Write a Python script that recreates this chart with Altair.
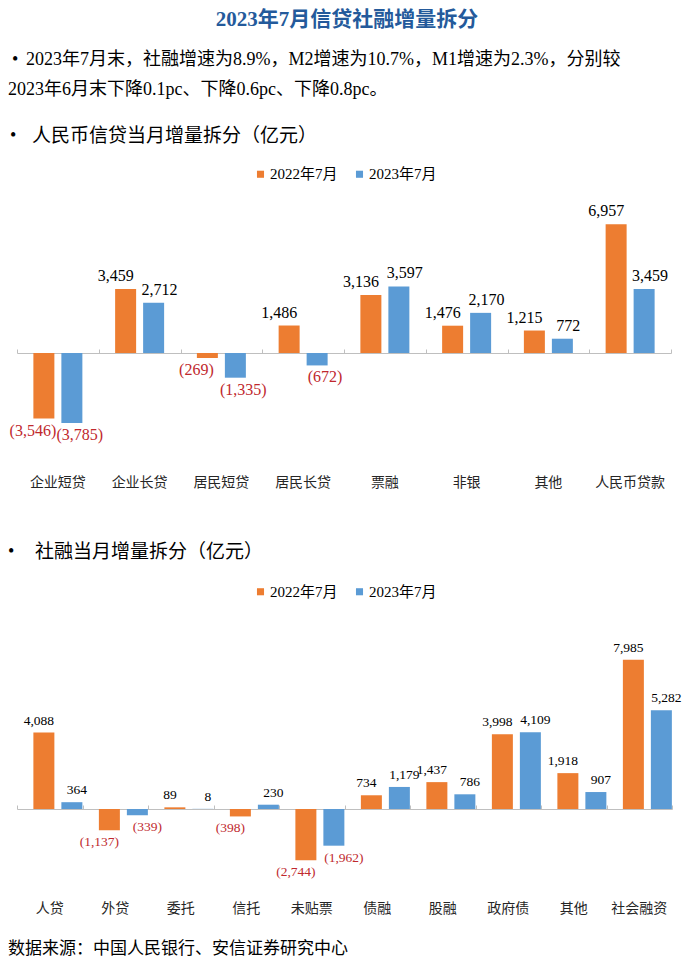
import altair as alt
import pandas as pd

FONT = "'Liberation Serif', 'Noto Sans CJK SC', serif"
ORANGE = "#ED7D31"
BLUE = "#5B9BD5"
RED = "#C0282D"
GRAY = "#BFBFBF"
TITLE_BLUE = "#245A9B"

series = ["2022年7月", "2023年7月"]

cats1 = ["企业短贷", "企业长贷", "居民短贷", "居民长贷", "票融", "非银", "其他", "人民币贷款"]
loan_2022 = [-3546, 3459, -269, 1486, 3136, 1476, 1215, 6957]
loan_2023 = [-3785, 2712, -1335, -672, 3597, 2170, 772, 3459]

cats2 = ["人贷", "外贷", "委托", "信托", "未贴票", "债融", "股融", "政府债", "其他", "社会融资"]
tsf_2022 = [4088, -1137, 89, -398, -2744, 734, 1437, 3998, 1918, 7985]
tsf_2023 = [364, -339, 8, 230, -1962, 1179, 786, 4109, 907, 5282]

TITLE = "2023年7月信贷社融增量拆分"
LINE1 = "2023年7月末，社融增速为8.9%，M2增速为10.7%，M1增速为2.3%，分别较"
LINE2 = "2023年6月末下降0.1pc、下降0.6pc、下降0.8pc。"
SEC1 = "人民币信贷当月增量拆分（亿元）"
SEC2 = "社融当月增量拆分（亿元）"
SOURCE = "数据来源：中国人民银行、安信证券研究中心"


def long_df(cats, a, b):
    rows = []
    for c, x, y in zip(cats, a, b):
        rows.append({"cat": c, "series": series[0], "value": x})
        rows.append({"cat": c, "series": series[1], "value": y})
    df = pd.DataFrame(rows)
    df["label"] = df["value"].map(lambda v: f"{v:,}" if v >= 0 else f"({-v:,})")
    return df


one = pd.DataFrame({"k": [0]})


def txt(text, x, y, size, align="left", weight="normal", color="#000000"):
    return alt.Chart(one).mark_text(
        text=text, align=align, baseline="middle", font=FONT,
        fontSize=size, fontWeight=weight, color=color
    ).encode(x=alt.value(x), y=alt.value(y))


def bar_panel(df, cats, width, height, domain, zero_y, legend_y,
              inner, outer, num_size, dx_pos, dx_neg, overlays):
    xs = alt.Scale(paddingInner=0, paddingOuter=0)
    xo = alt.XOffset("series:N", sort=series,
                     scale=alt.Scale(paddingInner=inner, paddingOuter=outer))
    ys = alt.Scale(domain=domain, nice=False, zero=False)
    base = alt.Chart(df)
    bars = base.mark_bar().encode(
        x=alt.X("cat:N", sort=cats, scale=xs,
                axis=alt.Axis(orient="bottom", title=None, domain=False, ticks=False,
                              labelAngle=0, labelPadding=5, labelFont=FONT,
                              labelFontSize=14, labelColor="#262626", grid=False)),
        xOffset=xo,
        y=alt.Y("value:Q", scale=ys, axis=None),
        color=alt.Color("series:N", sort=series,
                        scale=alt.Scale(domain=series, range=[ORANGE, BLUE]),
                        legend=alt.Legend(orient="none", legendX=236, legendY=legend_y,
                                          direction="horizontal", title=None,
                                          symbolType="square", symbolSize=50,
                                          symbolStrokeWidth=0, labelFont=FONT,
                                          labelFontSize=15, labelColor="#000000",
                                          columnPadding=14, labelOffset=2, padding=0)),
    )
    layers = [bars]
    first = True
    for i, s in enumerate(series):
        for positive in (True, False):
            cond = (alt.datum.series == s) & ((alt.datum.value >= 0) if positive else (alt.datum.value < 0))
            if first:
                xaxis = alt.Axis(orient="top", offset=-zero_y, labels=False, ticks=True,
                                 tickBand="extent", tickSize=4, tickColor=GRAY,
                                 domainColor=GRAY, domainWidth=1, title=None, grid=False)
                first = False
            else:
                xaxis = None
            t = base.transform_filter(cond).mark_text(
                baseline="alphabetic" if positive else "middle",
                dy=-8 if positive else 12,
                dx=dx_pos[i] if positive else dx_neg[i],
                font=FONT, fontSize=num_size,
                color="#000000" if positive else RED,
            ).encode(
                x=alt.X("cat:N", sort=cats, scale=xs, axis=xaxis),
                xOffset=xo,
                y=alt.Y("value:Q", scale=ys, axis=None),
                text="label:N",
            )
            layers.append(t)
    layers.extend(overlays)
    return alt.layer(*layers).resolve_axis(x="independent").properties(width=width, height=height)


header = alt.layer(
    txt(TITLE, 330, 12, 21, align="center", weight="bold", color=TITLE_BLUE),
    txt("•", -5, 52, 18),
    txt(LINE1, 9, 52, 18),
    txt(LINE2, -9, 82, 18),
    txt("•", -7, 128, 18),
    txt(SEC1, 15, 128, 19),
).properties(width=654, height=140)

k1 = 0.0185
panel1 = bar_panel(
    long_df(cats1, loan_2022, loan_2023), cats1, 654, 322,
    [-(322 - 205) / k1, 205 / k1], 205, 18.5,
    0.25, 0.585, 16, [-10, 6], [-11, 8], [],
)

k2 = 0.0187
panel2 = bar_panel(
    long_df(cats2, tsf_2022, tsf_2023), cats2, 655, 426,
    [-(426 - 339) / k2, 339 / k2], 339, 114,
    0.227, 0.602, 13.5, [-5, 5], [-10, 10],
    [txt("•", -9, 82, 18), txt(SEC2, 18, 82, 19), txt(SOURCE, -9, 479, 17)],
)

chart = alt.vconcat(header, panel1, panel2, spacing=0, bounds="flush").resolve_scale(
    color="independent"
).properties(padding=0).configure_view(stroke=None)

chart.save("out.html", embed_options={"renderer": "svg", "actions": False})
